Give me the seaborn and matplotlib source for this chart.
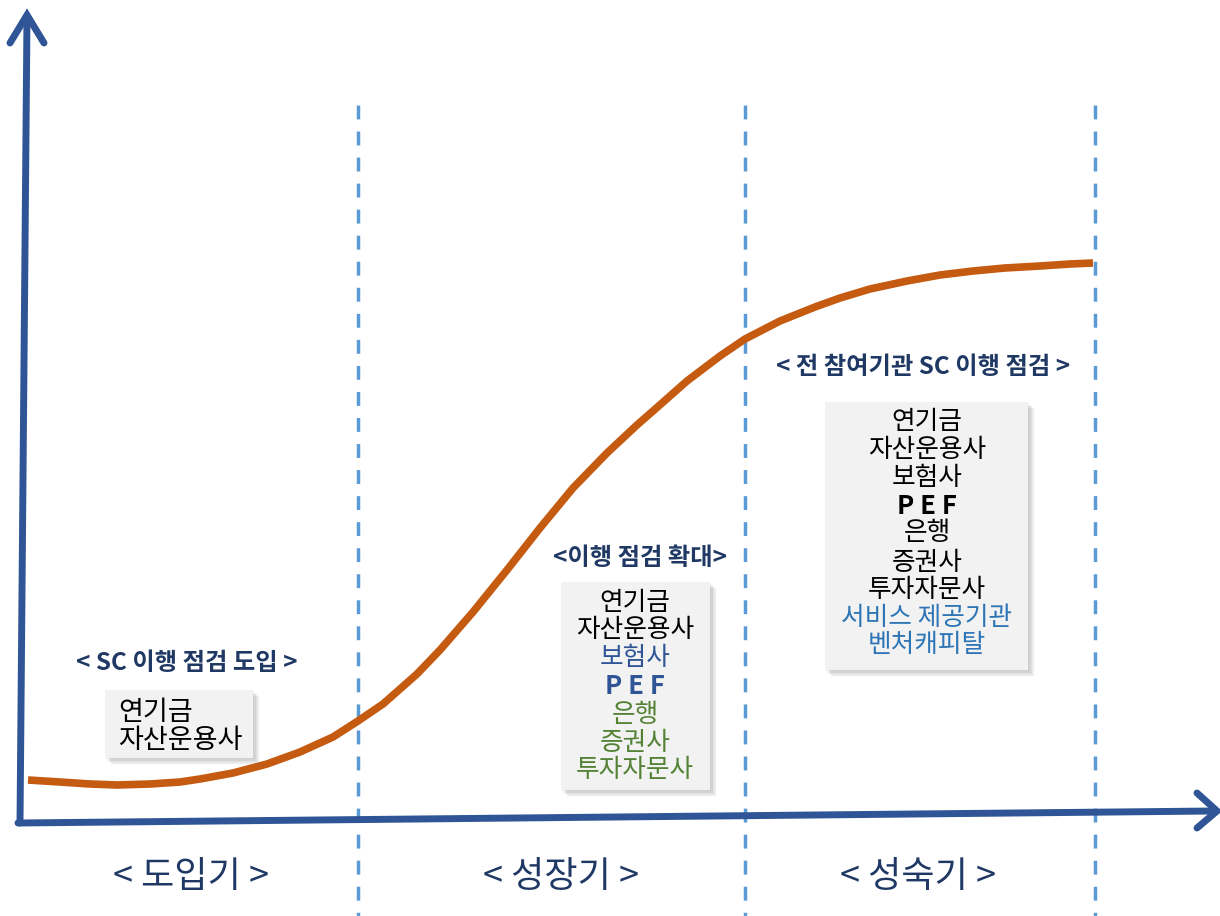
import matplotlib
matplotlib.use('Agg')
import matplotlib.pyplot as plt
from matplotlib.patches import Rectangle
import seaborn as sns
import pandas as pd

# S-curve (pixel space, y grows downward)
curve_x = [28, 60, 90, 117, 150, 180, 200, 233, 267, 300, 333, 358, 383, 417,
           440, 473, 507, 540, 573, 607, 637, 653, 687, 720, 745, 780, 815,
           840, 870, 907, 940, 973, 1005, 1040, 1070, 1093]
curve_y = [780, 782, 784, 785, 784, 782, 779, 773, 764, 752, 737, 721, 704, 674,
           650, 612, 570, 528, 488, 453, 425, 411, 381, 356, 339, 321, 307,
           298, 289, 281, 275, 271, 268, 266, 264, 263]

phase_bounds = [358, 745, 1095]
phase_names = ['< 도입기 >', '< 성장기 >', '< 성숙기 >']
phase_centers = [191, 561, 918]

headings = ['< SC 이행 점검 도입 >', '<이행 점검 확대>', '< 전 참여기관 SC 이행 점검 >']
heading_pos = [(187, 663), (640, 558), (923, 367)]

box1_lines = ['연기금', '자산운용사']
box1_colors = ['black', 'black']
box2_lines = ['연기금', '자산운용사', '보험사', 'P E F', '은행', '증권사', '투자자문사']
box2_colors = ['black', 'black', '#2F5597', '#2F5597', '#548235', '#548235', '#548235']
box3_lines = ['연기금', '자산운용사', '보험사', 'P E F', '은행', '증권사', '투자자문사',
              '서비스 제공기관', '벤처캐피탈']
box3_colors = ['black'] * 7 + ['#2E75B6', '#2E75B6']

sns.set_theme(style='white')
plt.rcParams['font.family'] = ['Noto Sans CJK KR', 'DejaVu Sans']

AXIS_COLOR = '#2F5597'
NAVY = '#1F3864'

fig = plt.figure(figsize=(12.2, 9.16), dpi=100)
ax = fig.add_axes([0, 0, 1, 1])

# dashed phase boundaries
for xb in phase_bounds:
    ax.plot([xb, xb], [105, 916], color='#5B9BD5', lw=2.5, ls=(0, (4, 3.5)), zorder=1)

# axes with open chevron heads
ax.plot([20, 27], [823, 17], color=AXIS_COLOR, lw=5, solid_capstyle='round', zorder=3)
ax.plot([10, 27, 44], [43, 15, 43], color=AXIS_COLOR, lw=5,
        solid_capstyle='round', solid_joinstyle='miter', zorder=3)
ax.plot([18, 1214], [823, 811], color=AXIS_COLOR, lw=5, solid_capstyle='round', zorder=3)
ax.plot([1197, 1217, 1197], [793, 811, 828], color=AXIS_COLOR, lw=5,
        solid_capstyle='round', solid_joinstyle='miter', zorder=3)

# the curve
curve = pd.DataFrame({'x': curve_x, 'y': curve_y})
sns.lineplot(data=curve, x='x', y='y', ax=ax, sort=False, color='#C55A11',
             lw=5.5, solid_capstyle='butt', solid_joinstyle='round', zorder=2)
ax.set_xlim(0, 1220)
ax.set_ylim(916, 0)
ax.axis('off')

# phase labels under the x axis
for name, xc in zip(phase_names, phase_centers):
    ax.text(xc, 877, name, ha='center', va='center', fontsize=26, color=NAVY,
            fontweight='light')

for txt, (xh, yh) in zip(headings, heading_pos):
    ax.text(xh, yh, txt, ha='center', va='center', fontsize=17.5,
            fontweight='bold', color=NAVY)


def draw_box(x0, y0, x1, y1, lines, colors, ys, xt, ha, size):
    for k, a in enumerate([0.08, 0.10, 0.12, 0.14]):
        ax.add_patch(Rectangle((x0 + 1 + k * 1.5, y0 + 1 + k * 1.5), x1 - x0, y1 - y0,
                               facecolor='#7F7F7F', edgecolor='none', alpha=a, zorder=4))
    ax.add_patch(Rectangle((x0, y0), x1 - x0, y1 - y0, facecolor='#F2F2F2',
                           edgecolor='none', zorder=5))
    for line, c, yy in zip(lines, colors, ys):
        bold = line == 'P E F'
        ax.text(xt, yy, line, ha=ha, va='center', fontsize=size, color=c,
                fontweight='bold' if bold else 'normal', zorder=6)


draw_box(105, 690, 253, 758, box1_lines, box1_colors, [712, 740], 118, 'left', 19.5)
draw_box(561, 582, 710, 790, box2_lines, box2_colors,
         [603, 630, 658, 687, 715, 743, 770], 635, 'center', 18.5)
draw_box(825, 402, 1028, 670, box3_lines, box3_colors,
         [422, 450, 478, 507, 533, 563, 590, 618, 645], 927, 'center', 18.5)

plt.savefig('out.png', dpi=100)
